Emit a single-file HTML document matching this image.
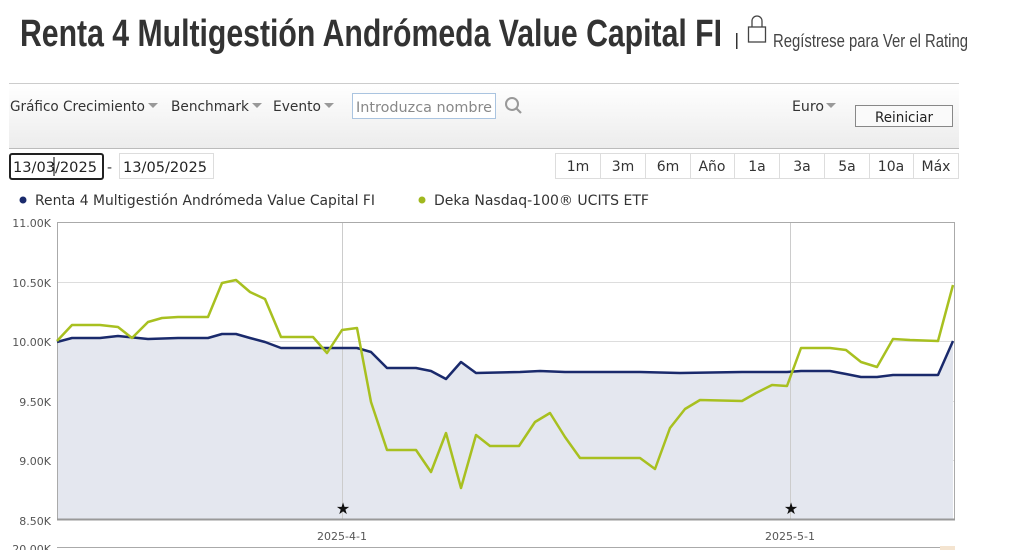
<!DOCTYPE html>
<html><head><meta charset="utf-8"><style>
html,body{margin:0;padding:0;background:#fff;width:1010px;height:550px;overflow:hidden}
svg{display:block}
</style></head><body>
<svg width="1010" height="550" xmlns="http://www.w3.org/2000/svg" font-family="'DejaVu Sans','Liberation Sans',sans-serif">
<defs><linearGradient id="tb" x1="0" y1="0" x2="0" y2="1"><stop offset="0" stop-color="#ffffff"/><stop offset="1" stop-color="#ececec"/></linearGradient></defs>
<text x="20" y="46" font-family="'Liberation Sans Narrow','Liberation Sans',sans-serif" font-weight="bold" font-size="38" fill="#333" textLength="702" lengthAdjust="spacingAndGlyphs">Renta 4 Multigestión Andrómeda Value Capital FI</text>
<rect x="736" y="33" width="1.5" height="16" fill="#333"/>
<path d="M752 27 v-6 a5 5 0 0 1 10 0 v6" fill="none" stroke="#444" stroke-width="1.3"/>
<rect x="748.5" y="27" width="17" height="15" fill="none" stroke="#444" stroke-width="1.3"/>
<text x="773" y="47" font-family="'Liberation Sans Narrow','Liberation Sans',sans-serif" font-size="18" fill="#444" textLength="195" lengthAdjust="spacingAndGlyphs">Regístrese para Ver el Rating</text>
<rect x="9" y="83" width="950" height="66" fill="url(#tb)"/>
<line x1="9" y1="83.5" x2="959" y2="83.5" stroke="#ccc"/>
<line x1="9" y1="148.5" x2="959" y2="148.5" stroke="#bbb"/>
<g font-size="14" fill="#333">
<text x="10" y="111" textLength="135" lengthAdjust="spacingAndGlyphs">Gráfico Crecimiento</text>
<text x="171" y="111" textLength="78" lengthAdjust="spacingAndGlyphs">Benchmark</text>
<text x="273" y="111" textLength="48" lengthAdjust="spacingAndGlyphs">Evento</text>
<text x="792" y="111" textLength="32" lengthAdjust="spacingAndGlyphs">Euro</text>
</g>
<g fill="#999"><path d="M148 103h10l-5 5z"/><path d="M252 103h10l-5 5z"/><path d="M324 103h10l-5 5z"/><path d="M826 103h10l-5 5z"/></g>
<rect x="352.5" y="93.5" width="143" height="25" fill="#fff" stroke="#aac4e0"/>
<text x="356" y="112" font-size="14" fill="#888" textLength="136" lengthAdjust="spacingAndGlyphs">Introduzca nombre</text>
<circle cx="512" cy="104" r="6" fill="none" stroke="#999" stroke-width="2"/><line x1="516" y1="108" x2="521" y2="113" stroke="#999" stroke-width="2.2"/>
<rect x="855.5" y="105.5" width="97" height="21" fill="#fafafa" stroke="#888"/>
<text x="875" y="122" font-size="14" fill="#222" textLength="58" lengthAdjust="spacingAndGlyphs">Reiniciar</text>
<rect x="10" y="154" width="93" height="25" rx="2" fill="#fff" stroke="#222" stroke-width="2"/>
<text x="13" y="172" font-size="14" fill="#222" textLength="84" lengthAdjust="spacingAndGlyphs">13/03/2025</text>
<line x1="54" y1="157" x2="54" y2="176" stroke="#000"/>
<text x="107" y="172" font-size="14" fill="#333">-</text>
<rect x="119.5" y="153.5" width="94" height="25" fill="#fff" stroke="#ddd"/>
<text x="123" y="172" font-size="14" fill="#222" textLength="84" lengthAdjust="spacingAndGlyphs">13/05/2025</text>
<g stroke="#ddd" fill="#fff">
<rect x="555.5" y="153.5" width="403" height="25"/>
</g>
<g stroke="#ddd"><line x1="600.5" y1="153" x2="600.5" y2="179"/><line x1="645.5" y1="153" x2="645.5" y2="179"/><line x1="690.5" y1="153" x2="690.5" y2="179"/><line x1="734.5" y1="153" x2="734.5" y2="179"/><line x1="779.5" y1="153" x2="779.5" y2="179"/><line x1="824.5" y1="153" x2="824.5" y2="179"/><line x1="869.5" y1="153" x2="869.5" y2="179"/><line x1="913.5" y1="153" x2="913.5" y2="179"/></g>
<g font-size="14" fill="#333" text-anchor="middle">
<text x="578" y="171">1m</text><text x="623" y="171">3m</text><text x="668" y="171">6m</text><text x="712" y="171">Año</text><text x="757" y="171">1a</text><text x="802" y="171">3a</text><text x="847" y="171">5a</text><text x="891" y="171">10a</text><text x="936" y="171">Máx</text>
</g>
<circle cx="23" cy="200" r="3.5" fill="#1a2a6c"/>
<text x="35" y="205" font-size="14" fill="#333" textLength="340" lengthAdjust="spacingAndGlyphs">Renta 4 Multigestión Andrómeda Value Capital FI</text>
<circle cx="422" cy="200" r="3.5" fill="#a0b81e"/>
<text x="434" y="205" font-size="14" fill="#333" textLength="215" lengthAdjust="spacingAndGlyphs">Deka Nasdaq-100® UCITS ETF</text>
<!-- chart -->
<g stroke="#ddd"><line x1="57" y1="282.5" x2="955" y2="282.5"/><line x1="57" y1="341.5" x2="955" y2="341.5"/><line x1="57" y1="401.5" x2="955" y2="401.5"/><line x1="57" y1="460.5" x2="955" y2="460.5"/></g>
<path d="M57,342 L72,338 L100,338 L118,336 L148,339 L178,338 L208,338 L222,334 L236,334 L250,338 L265,342 L281,348 L327,348 L357,348 L371,352 L387,368 L416,368 L431,371 L446,379 L461,362 L476,373 L520,372 L540,371 L565,372 L640,372 L680,373 L742,372 L787,372 L801,371 L830,371 L846,374 L861,377 L877,377 L893,375 L938,375 L953,341 L953,520 L57,520Z" fill="#e4e7ef"/>
<g stroke="#ccc"><line x1="342.5" y1="222" x2="342.5" y2="520"/><line x1="790.5" y1="222" x2="790.5" y2="520"/></g>
<rect x="57.5" y="222.5" width="897" height="297" fill="none" stroke="#aaa"/>
<line x1="57" y1="519.5" x2="955" y2="519.5" stroke="#999" stroke-width="2"/>
<path d="M57,342 L72,338 L100,338 L118,336 L148,339 L178,338 L208,338 L222,334 L236,334 L250,338 L265,342 L281,348 L327,348 L357,348 L371,352 L387,368 L416,368 L431,371 L446,379 L461,362 L476,373 L520,372 L540,371 L565,372 L640,372 L680,373 L742,372 L787,372 L801,371 L830,371 L846,374 L861,377 L877,377 L893,375 L938,375 L953,341" fill="none" stroke="#1a2a6c" stroke-width="2.5" stroke-linejoin="round"/>
<path d="M57,341 L72,325 L100,325 L118,327 L132,338 L148,322 L162,318 L178,317 L208,317 L222,283 L236,280 L250,292 L265,299 L281,337 L313,337 L327,353 L342,330 L357,328 L371,402 L387,450 L416,450 L431,472 L446,433 L461,488 L476,435 L490,446 L519,446 L535,422 L550,413 L565,437 L580,458 L640,458 L655,469 L670,428 L685,409 L700,400 L742,401 L756,393 L772,385 L787,386 L801,348 L830,348 L846,350 L861,362 L877,367 L893,339 L910,340 L938,341 L953,285" fill="none" stroke="#a8c020" stroke-width="2.5" stroke-linejoin="round"/>
<g font-size="16" fill="#111" text-anchor="middle"><text x="343" y="514">★</text><text x="791" y="514">★</text></g>
<g font-size="11" fill="#555" text-anchor="end">
<text x="51" y="227">11.00K</text><text x="51" y="287">10.50K</text><text x="51" y="346">10.00K</text><text x="51" y="406">9.50K</text><text x="51" y="465">9.00K</text><text x="51" y="525">8.50K</text><text x="51" y="553">20.00K</text>
</g>
<g font-size="11" fill="#555" text-anchor="middle"><text x="342" y="540">2025-4-1</text><text x="790" y="540">2025-5-1</text></g>
<line x1="57" y1="547.5" x2="955" y2="547.5" stroke="#aaa"/>
<rect x="940" y="546" width="15" height="4" fill="#f4e4d0"/>
</svg>
</body></html>
